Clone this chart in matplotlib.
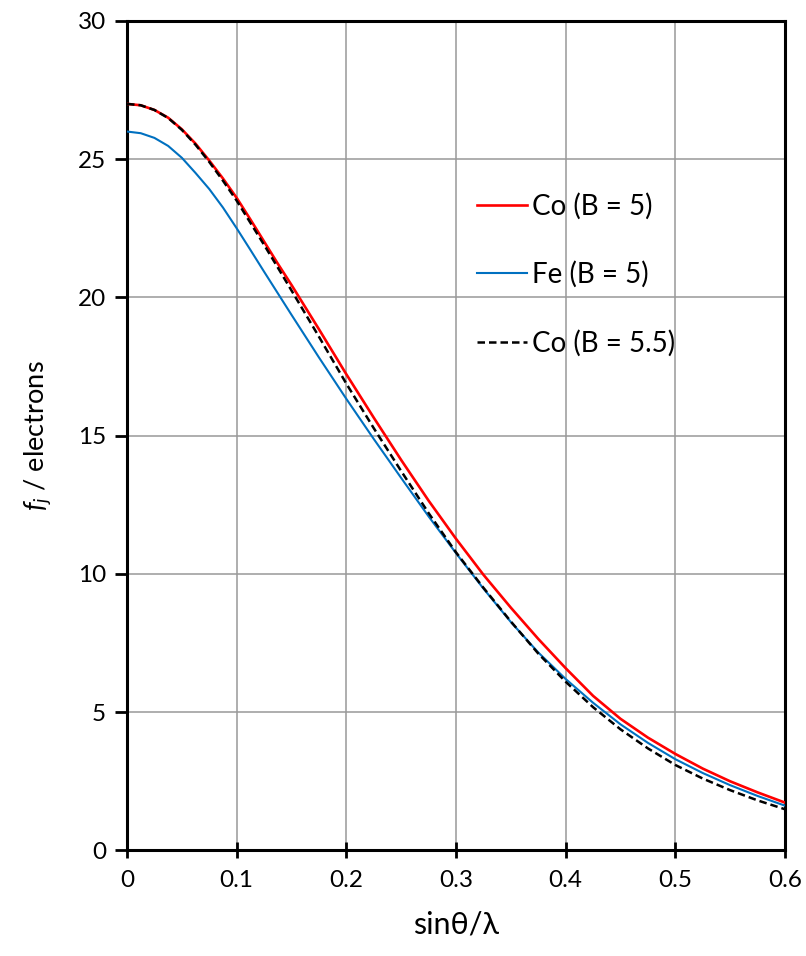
import matplotlib
matplotlib.use("Agg")
import matplotlib.pyplot as plt

plt.rcParams['font.family'] = ['Lato', 'DejaVu Sans']
plt.rcParams['mathtext.fontset'] = 'custom'
plt.rcParams['mathtext.it'] = 'Lato:italic'
plt.rcParams['mathtext.rm'] = 'Lato'

s = [0.0, 0.0125, 0.025, 0.0375, 0.05, 0.0625, 0.075, 0.0875, 0.1, 0.1125, 0.125, 0.1375,
     0.15, 0.175, 0.2, 0.225, 0.25, 0.275, 0.3, 0.325, 0.35, 0.375, 0.4, 0.425, 0.45,
     0.475, 0.5, 0.525, 0.55, 0.575, 0.6]

co_b5 = [27.0, 26.95, 26.78, 26.5, 26.08, 25.56, 24.95, 24.3, 23.6, 22.82, 22.02, 21.22,
         20.45, 18.85, 17.22, 15.65, 14.12, 12.65, 11.27, 9.97, 8.78, 7.65, 6.59, 5.59, 4.76,
         4.08, 3.49, 2.96, 2.5, 2.1, 1.73]

fe_b5 = [26.0, 25.94, 25.77, 25.48, 25.05, 24.5, 23.92, 23.25, 22.5, 21.72, 20.93, 20.15,
         19.37, 17.83, 16.33, 14.88, 13.47, 12.08, 10.75, 9.47, 8.26, 7.16, 6.2, 5.34, 4.56,
         3.89, 3.3, 2.8, 2.36, 1.97, 1.62]

co_b55 = [27.0, 26.95, 26.78, 26.49, 26.06, 25.52, 24.9, 24.22, 23.5, 22.7, 21.9, 21.08,
          20.25, 18.58, 16.88, 15.27, 13.72, 12.2, 10.78, 9.5, 8.28, 7.12, 6.1, 5.18, 4.38,
          3.69, 3.09, 2.6, 2.18, 1.81, 1.49]

labels = ["Co (B = 5)", "Fe (B = 5)", "Co (B = 5.5)"]
xticks = [0, 0.1, 0.2, 0.3, 0.4, 0.5, 0.6]
xticklabels = ["0", "0.1", "0.2", "0.3", "0.4", "0.5", "0.6"]
yticks = [0, 5, 10, 15, 20, 25, 30]

fig = plt.figure(figsize=(8.06, 9.56), dpi=100)
ax = fig.add_axes([0.1576, 0.1104, 0.8164, 0.8677])

ax.plot(s, co_b5, color='#ff0000', lw=1.9, label=labels[0], zorder=3)
ax.plot(s, fe_b5, color='#0070c0', lw=1.5, label=labels[1], zorder=3)
ax.plot(s, co_b55, color='black', lw=1.8, dashes=(3.0, 1.6), label=labels[2], zorder=4)

ax.set_xlim(0, 0.6)
ax.set_ylim(0, 30)
ax.set_xticks(xticks)
ax.set_xticklabels(xticklabels)
ax.set_yticks(yticks)
ax.grid(True, color='#999999', lw=1.1)
ax.set_axisbelow(True)
for sp in ax.spines.values():
    sp.set_color('black')
    sp.set_linewidth(2.2)

ax.tick_params(axis='x', direction='inout', length=12, width=2, labelsize=17.5, pad=8)
ax.tick_params(axis='y', direction='out', length=9, width=2, labelsize=17.5, pad=6)

ax.set_xlabel("sinθ/λ", fontsize=22, labelpad=14)
ax.set_ylabel(r"$f_j$ / electrons", fontsize=19.5, labelpad=18)

leg = ax.legend(loc='upper left', bbox_to_anchor=(0.532, 0.793), frameon=False,
                fontsize=20, handlelength=1.8, handletextpad=0.18, labelspacing=1.5,
                borderaxespad=0, borderpad=0)

fig.savefig("out.png", dpi=100)
